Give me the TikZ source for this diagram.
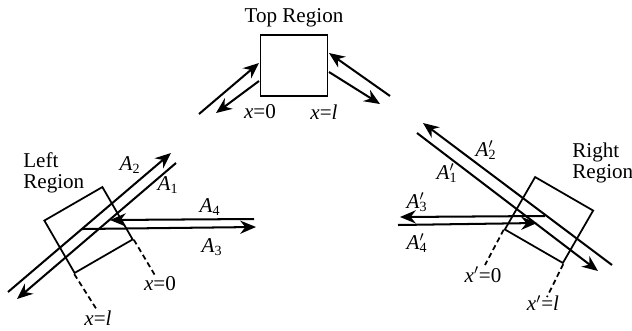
\documentclass[tikz,border=0pt]{standalone}
\usepackage{fontspec}
\setmainfont{Liberation Serif}
\usepackage{tikz}
\usetikzlibrary{arrows.meta,positioning}
\newcommand{\Alab}[1]{\textit{A}\textsubscript{#1}}
\newcommand{\Aplab}[1]{\textit{A}\rlap{\textsuperscript{$\prime$}}\textsubscript{#1}}
\newcommand{\xp}{\textit{x}$'$}

\begin{document}
\begin{tikzpicture}[
  every node/.style={font=\fontsize{12}{12}\selectfont},
  region/.style={draw=black, line width=1pt, minimum width=1.34cm, minimum height=1.21cm, inner sep=0pt},
  lab/.style={inner sep=0pt},
  ray/.style={line width=1.15pt, color=black},
  arr/.style={ray, -{Stealth[length=9pt,width=7.5pt]}},
  cut/.style={line width=1pt, densely dashed, color=black}
]
  \useasboundingbox (0,0) rectangle (12.64,-6.6);

  % regions
  \node[region] (regt) at (5.88,-1.31) {};
  \node[region, rotate=30] (regl) at (1.77,-4.60) {};
  \node[region, rotate=-30] (regr) at (10.98,-4.40) {};

  \node[lab, above=0.14cm of regt] (tname) {Top Region};
  \node[lab, align=left, anchor=west] (lname) at (0.46,-3.45) {Left\\Region};
  \node[lab, align=left, anchor=west] (rname) at (11.44,-3.25) {Right\\Region};

  % top region
  \coordinate (t1a) at (3.98,-2.28);
  \coordinate (t1b) at (5.18,-1.26);
  \coordinate (t2a) at (5.18,-1.62);
  \coordinate (t2b) at (4.32,-2.26);
  \coordinate (t3a) at (7.80,-1.92);
  \coordinate (t3b) at (6.58,-1.06);
  \coordinate (t4a) at (6.58,-1.44);
  \coordinate (t4b) at (7.60,-2.08);
  \draw[arr] (t1a) -- (t1b);
  \draw[arr] (t2a) -- (t2b);
  \draw[arr] (t3a) -- (t3b);
  \draw[arr] (t4a) -- (t4b);
  \node[lab] (tx0) at (5.20,-2.24) {\textit{x}=0};
  \node[lab] (txl) at (6.48,-2.24) {\textit{x}=\textit{l}};

  % left region
  \coordinate (l2a) at (0.16,-5.84);
  \coordinate (l2b) at (3.42,-3.06);
  \coordinate (l1a) at (3.52,-3.26);
  \coordinate (l1b) at (0.34,-5.98);
  \coordinate (l4a) at (5.08,-4.38);
  \coordinate (l4b) at (2.20,-4.40);
  \coordinate (l3a) at (1.64,-4.58);
  \coordinate (l3b) at (5.12,-4.54);
  \coordinate (lc0) at (3.12,-5.54);
  \coordinate (lcl) at (1.94,-6.20);
  \draw[arr] (l2a) -- (l2b);
  \draw[arr] (l1a) -- (l1b);
  \draw[arr] (l4a) -- (l4b);
  \draw[arr] (l3a) -- (l3b);
  \draw[cut] (regl.south east) -- (lc0);
  \draw[cut] (regl.south west) -- (lcl);
  \node[lab] (la2) at (2.60,-3.30) {\Alab{2}};
  \node[lab] (la1) at (3.36,-3.70) {\Alab{1}};
  \node[lab] (la4) at (4.20,-4.14) {\Alab{4}};
  \node[lab] (la3) at (4.24,-4.94) {\Alab{3}};
  \node[lab] (lx0) at (3.20,-5.68) {\textit{x}=0};
  \node[lab] (lxl) at (1.96,-6.36) {\textit{x}=\textit{l}};

  % right region
  \coordinate (r2a) at (12.24,-5.30);
  \coordinate (r2b) at (8.46,-2.46);
  \coordinate (r1a) at (8.34,-2.66);
  \coordinate (r1b) at (11.96,-5.42);
  \coordinate (r3a) at (10.90,-4.32);
  \coordinate (r3b) at (8.00,-4.34);
  \coordinate (r4a) at (7.96,-4.50);
  \coordinate (r4b) at (10.74,-4.46);
  \coordinate (rc0) at (9.70,-5.30);
  \coordinate (rcl) at (10.94,-5.94);
  \draw[arr] (r2a) -- (r2b);
  \draw[arr] (r1a) -- (r1b);
  \draw[arr] (r3a) -- (r3b);
  \draw[arr] (r4a) -- (r4b);
  \draw[cut] (regr.south west) -- (rc0);
  \draw[cut] (regr.south east) -- (rcl);
  \node[lab] (ra2) at (9.72,-3.00) {\Aplab{2}};
  \node[lab] (ra1) at (8.94,-3.46) {\Aplab{1}};
  \node[lab] (ra3) at (8.34,-4.04) {\Aplab{3}};
  \node[lab] (ra4) at (8.34,-4.86) {\Aplab{4}};
  \node[lab] (rx0) at (9.66,-5.50) {\xp=0};
  \node[lab] (rxl) at (10.86,-6.06) {\xp=\textit{l}};
\end{tikzpicture}
\end{document}
